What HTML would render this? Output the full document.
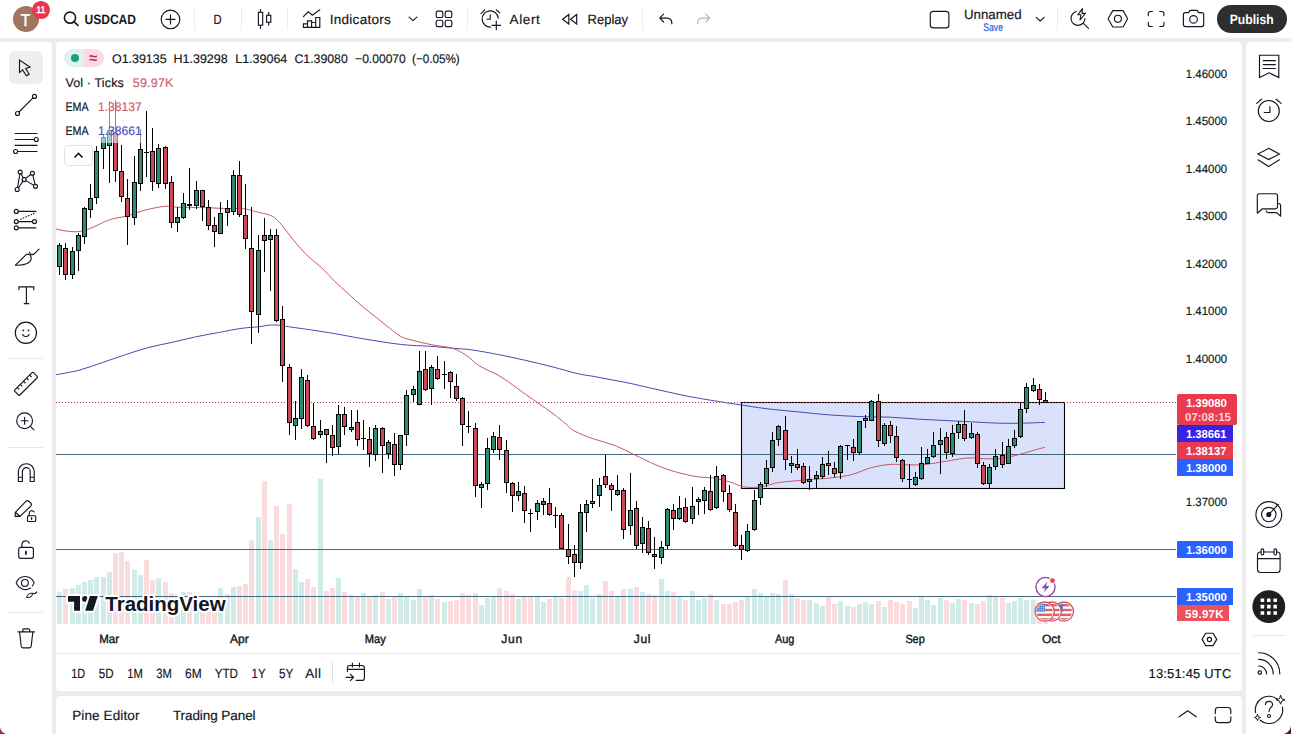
<!DOCTYPE html>
<html><head><meta charset="utf-8"><title>USDCAD</title>
<style>
html,body{margin:0;padding:0}
body{width:1291px;height:734px;overflow:hidden;background:#ececec;position:relative;font-family:"Liberation Sans",sans-serif}
.p{position:absolute;background:#fff}
.t{position:absolute;white-space:nowrap;font-family:"Liberation Sans",sans-serif}
.i{position:absolute;overflow:visible}
</style></head><body>
<div class="p" style="left:0;top:0;width:1291px;height:38px"></div>
<div class="p" style="left:0;top:42px;width:52px;height:692px;border-radius:0 4px 0 0"></div>
<div class="p" style="left:56px;top:42px;width:1186px;height:649px;border-radius:4px"></div>
<div class="p" style="left:56px;top:696px;width:1186px;height:38px;border-radius:4px 4px 0 0"></div>
<div class="p" style="left:1246px;top:42px;width:45px;height:692px;border-radius:4px 0 0 0"></div>
<svg style="position:absolute;left:0;top:0" width="1291" height="734" viewBox="0 0 1291 734">
<g shape-rendering="crispEdges">
<rect x="57" y="592.0" width="5" height="32.0" fill="#d1ebe9"/>
<rect x="63" y="588.7" width="5" height="35.3" fill="#fadcde"/>
<rect x="70" y="587.9" width="5" height="36.1" fill="#d1ebe9"/>
<rect x="76" y="585.2" width="5" height="38.8" fill="#d1ebe9"/>
<rect x="82" y="582.0" width="5" height="42.0" fill="#d1ebe9"/>
<rect x="88" y="579.8" width="5" height="44.2" fill="#d1ebe9"/>
<rect x="94" y="577.0" width="5" height="47.0" fill="#d1ebe9"/>
<rect x="101" y="577.0" width="5" height="47.0" fill="#d1ebe9"/>
<rect x="107" y="571.7" width="5" height="52.3" fill="#d1ebe9"/>
<rect x="113" y="552.7" width="5" height="71.3" fill="#fadcde"/>
<rect x="119" y="551.9" width="5" height="72.1" fill="#fadcde"/>
<rect x="125" y="560.8" width="5" height="63.2" fill="#fadcde"/>
<rect x="132" y="569.8" width="5" height="54.2" fill="#d1ebe9"/>
<rect x="138" y="575.2" width="5" height="48.8" fill="#d1ebe9"/>
<rect x="144" y="560.3" width="5" height="63.7" fill="#fadcde"/>
<rect x="150" y="579.8" width="5" height="44.2" fill="#fadcde"/>
<rect x="156" y="577.9" width="5" height="46.1" fill="#d1ebe9"/>
<rect x="163" y="582.0" width="5" height="42.0" fill="#fadcde"/>
<rect x="169" y="592.5" width="5" height="31.5" fill="#fadcde"/>
<rect x="175" y="595.0" width="5" height="29.0" fill="#d1ebe9"/>
<rect x="181" y="592.0" width="5" height="32.0" fill="#d1ebe9"/>
<rect x="187" y="592.0" width="5" height="32.0" fill="#fadcde"/>
<rect x="194" y="596.0" width="5" height="28.0" fill="#d1ebe9"/>
<rect x="200" y="600.0" width="5" height="24.0" fill="#fadcde"/>
<rect x="206" y="600.0" width="5" height="24.0" fill="#fadcde"/>
<rect x="212" y="598.8" width="5" height="25.2" fill="#fadcde"/>
<rect x="218" y="587.9" width="5" height="36.1" fill="#d1ebe9"/>
<rect x="225" y="593.9" width="5" height="30.1" fill="#d1ebe9"/>
<rect x="231" y="586.6" width="5" height="37.4" fill="#d1ebe9"/>
<rect x="237" y="585.7" width="5" height="38.3" fill="#fadcde"/>
<rect x="243" y="583.9" width="5" height="40.1" fill="#fadcde"/>
<rect x="249" y="539.9" width="5" height="84.1" fill="#fadcde"/>
<rect x="256" y="516.9" width="5" height="107.1" fill="#d1ebe9"/>
<rect x="262" y="480.8" width="5" height="143.2" fill="#fadcde"/>
<rect x="268" y="539.9" width="5" height="84.1" fill="#d1ebe9"/>
<rect x="274" y="506.0" width="5" height="118.0" fill="#fadcde"/>
<rect x="280" y="534.2" width="5" height="89.8" fill="#fadcde"/>
<rect x="287" y="503.9" width="5" height="120.1" fill="#fadcde"/>
<rect x="293" y="568.9" width="5" height="55.1" fill="#d1ebe9"/>
<rect x="299" y="582.0" width="5" height="42.0" fill="#d1ebe9"/>
<rect x="305" y="579.0" width="5" height="45.0" fill="#fadcde"/>
<rect x="311" y="586.6" width="5" height="37.4" fill="#fadcde"/>
<rect x="318" y="478.9" width="5" height="145.1" fill="#d1ebe9"/>
<rect x="324" y="590.6" width="5" height="33.4" fill="#fadcde"/>
<rect x="330" y="587.9" width="5" height="36.1" fill="#fadcde"/>
<rect x="336" y="577.9" width="5" height="46.1" fill="#d1ebe9"/>
<rect x="342" y="592.0" width="5" height="32.0" fill="#fadcde"/>
<rect x="349" y="595.0" width="5" height="29.0" fill="#d1ebe9"/>
<rect x="355" y="597.0" width="5" height="27.0" fill="#fadcde"/>
<rect x="361" y="593.0" width="5" height="31.0" fill="#d1ebe9"/>
<rect x="367" y="596.0" width="5" height="28.0" fill="#fadcde"/>
<rect x="373" y="595.0" width="5" height="29.0" fill="#d1ebe9"/>
<rect x="380" y="592.0" width="5" height="32.0" fill="#fadcde"/>
<rect x="386" y="598.8" width="5" height="25.2" fill="#d1ebe9"/>
<rect x="392" y="597.0" width="5" height="27.0" fill="#fadcde"/>
<rect x="398" y="593.0" width="5" height="31.0" fill="#d1ebe9"/>
<rect x="404" y="596.2" width="5" height="27.8" fill="#d1ebe9"/>
<rect x="411" y="600.2" width="5" height="23.8" fill="#d1ebe9"/>
<rect x="417" y="588.9" width="5" height="35.1" fill="#d1ebe9"/>
<rect x="423" y="596.2" width="5" height="27.8" fill="#fadcde"/>
<rect x="429" y="595.4" width="5" height="28.6" fill="#d1ebe9"/>
<rect x="435" y="598.9" width="5" height="25.1" fill="#fadcde"/>
<rect x="442" y="602.4" width="5" height="21.6" fill="#d1ebe9"/>
<rect x="448" y="601.0" width="5" height="23.0" fill="#fadcde"/>
<rect x="454" y="600.2" width="5" height="23.8" fill="#fadcde"/>
<rect x="460" y="592.9" width="5" height="31.1" fill="#fadcde"/>
<rect x="466" y="595.4" width="5" height="28.6" fill="#fadcde"/>
<rect x="473" y="592.9" width="5" height="31.1" fill="#fadcde"/>
<rect x="479" y="605.1" width="5" height="18.9" fill="#d1ebe9"/>
<rect x="485" y="598.0" width="5" height="26.0" fill="#d1ebe9"/>
<rect x="491" y="597.0" width="5" height="27.0" fill="#d1ebe9"/>
<rect x="497" y="588.0" width="5" height="36.0" fill="#fadcde"/>
<rect x="504" y="591.0" width="5" height="33.0" fill="#fadcde"/>
<rect x="510" y="594.0" width="5" height="30.0" fill="#fadcde"/>
<rect x="516" y="598.9" width="5" height="25.1" fill="#d1ebe9"/>
<rect x="522" y="597.0" width="5" height="27.0" fill="#fadcde"/>
<rect x="528" y="595.6" width="5" height="28.4" fill="#fadcde"/>
<rect x="535" y="597.0" width="5" height="27.0" fill="#d1ebe9"/>
<rect x="541" y="602.4" width="5" height="21.6" fill="#d1ebe9"/>
<rect x="547" y="598.9" width="5" height="25.1" fill="#fadcde"/>
<rect x="553" y="596.2" width="5" height="27.8" fill="#d1ebe9"/>
<rect x="559" y="598.0" width="5" height="26.0" fill="#fadcde"/>
<rect x="566" y="576.7" width="5" height="47.3" fill="#fadcde"/>
<rect x="572" y="589.9" width="5" height="34.1" fill="#fadcde"/>
<rect x="578" y="591.0" width="5" height="33.0" fill="#d1ebe9"/>
<rect x="584" y="584.8" width="5" height="39.2" fill="#d1ebe9"/>
<rect x="590" y="598.0" width="5" height="26.0" fill="#d1ebe9"/>
<rect x="597" y="594.0" width="5" height="30.0" fill="#d1ebe9"/>
<rect x="603" y="580.7" width="5" height="43.3" fill="#fadcde"/>
<rect x="609" y="591.0" width="5" height="33.0" fill="#fadcde"/>
<rect x="615" y="596.2" width="5" height="27.8" fill="#d1ebe9"/>
<rect x="621" y="588.9" width="5" height="35.1" fill="#fadcde"/>
<rect x="628" y="588.9" width="5" height="35.1" fill="#d1ebe9"/>
<rect x="634" y="587.0" width="5" height="37.0" fill="#fadcde"/>
<rect x="640" y="592.1" width="5" height="31.9" fill="#d1ebe9"/>
<rect x="646" y="594.0" width="5" height="30.0" fill="#fadcde"/>
<rect x="652" y="595.4" width="5" height="28.6" fill="#fadcde"/>
<rect x="659" y="578.8" width="5" height="45.2" fill="#d1ebe9"/>
<rect x="665" y="591.0" width="5" height="33.0" fill="#d1ebe9"/>
<rect x="671" y="592.1" width="5" height="31.9" fill="#fadcde"/>
<rect x="677" y="597.0" width="5" height="27.0" fill="#d1ebe9"/>
<rect x="683" y="599.7" width="5" height="24.3" fill="#fadcde"/>
<rect x="690" y="591.0" width="5" height="33.0" fill="#d1ebe9"/>
<rect x="696" y="599.7" width="5" height="24.3" fill="#d1ebe9"/>
<rect x="702" y="598.0" width="5" height="26.0" fill="#d1ebe9"/>
<rect x="708" y="594.0" width="5" height="30.0" fill="#fadcde"/>
<rect x="714" y="599.7" width="5" height="24.3" fill="#d1ebe9"/>
<rect x="721" y="603.8" width="5" height="20.2" fill="#fadcde"/>
<rect x="727" y="603.8" width="5" height="20.2" fill="#fadcde"/>
<rect x="733" y="602.1" width="5" height="21.9" fill="#fadcde"/>
<rect x="739" y="600.2" width="5" height="23.8" fill="#fadcde"/>
<rect x="745" y="597.0" width="5" height="27.0" fill="#d1ebe9"/>
<rect x="752" y="588.9" width="5" height="35.1" fill="#d1ebe9"/>
<rect x="758" y="592.9" width="5" height="31.1" fill="#d1ebe9"/>
<rect x="764" y="596.2" width="5" height="27.8" fill="#d1ebe9"/>
<rect x="770" y="592.9" width="5" height="31.1" fill="#d1ebe9"/>
<rect x="776" y="594.0" width="5" height="30.0" fill="#d1ebe9"/>
<rect x="783" y="579.9" width="5" height="44.1" fill="#fadcde"/>
<rect x="789" y="594.0" width="5" height="30.0" fill="#d1ebe9"/>
<rect x="795" y="598.0" width="5" height="26.0" fill="#fadcde"/>
<rect x="801" y="600.2" width="5" height="23.8" fill="#fadcde"/>
<rect x="807" y="600.2" width="5" height="23.8" fill="#d1ebe9"/>
<rect x="814" y="603.0" width="5" height="21.0" fill="#d1ebe9"/>
<rect x="820" y="606.2" width="5" height="17.8" fill="#d1ebe9"/>
<rect x="826" y="597.0" width="5" height="27.0" fill="#fadcde"/>
<rect x="832" y="603.8" width="5" height="20.2" fill="#fadcde"/>
<rect x="838" y="601.0" width="5" height="23.0" fill="#d1ebe9"/>
<rect x="845" y="605.7" width="5" height="18.3" fill="#d1ebe9"/>
<rect x="851" y="607.0" width="5" height="17.0" fill="#fadcde"/>
<rect x="857" y="603.8" width="5" height="20.2" fill="#d1ebe9"/>
<rect x="863" y="602.1" width="5" height="21.9" fill="#d1ebe9"/>
<rect x="869" y="603.8" width="5" height="20.2" fill="#d1ebe9"/>
<rect x="876" y="601.0" width="5" height="23.0" fill="#fadcde"/>
<rect x="882" y="607.0" width="5" height="17.0" fill="#d1ebe9"/>
<rect x="888" y="600.2" width="5" height="23.8" fill="#fadcde"/>
<rect x="894" y="602.1" width="5" height="21.9" fill="#fadcde"/>
<rect x="900" y="603.8" width="5" height="20.2" fill="#fadcde"/>
<rect x="907" y="601.0" width="5" height="23.0" fill="#fadcde"/>
<rect x="913" y="607.8" width="5" height="16.2" fill="#d1ebe9"/>
<rect x="919" y="597.0" width="5" height="27.0" fill="#d1ebe9"/>
<rect x="925" y="600.2" width="5" height="23.8" fill="#d1ebe9"/>
<rect x="931" y="604.8" width="5" height="19.2" fill="#d1ebe9"/>
<rect x="938" y="598.0" width="5" height="26.0" fill="#d1ebe9"/>
<rect x="944" y="600.2" width="5" height="23.8" fill="#fadcde"/>
<rect x="950" y="603.0" width="5" height="21.0" fill="#d1ebe9"/>
<rect x="956" y="598.9" width="5" height="25.1" fill="#d1ebe9"/>
<rect x="962" y="599.7" width="5" height="24.3" fill="#fadcde"/>
<rect x="969" y="603.0" width="5" height="21.0" fill="#d1ebe9"/>
<rect x="975" y="603.8" width="5" height="20.2" fill="#fadcde"/>
<rect x="981" y="601.0" width="5" height="23.0" fill="#fadcde"/>
<rect x="987" y="595.4" width="5" height="28.6" fill="#d1ebe9"/>
<rect x="993" y="596.2" width="5" height="27.8" fill="#d1ebe9"/>
<rect x="1000" y="598.0" width="5" height="26.0" fill="#fadcde"/>
<rect x="1006" y="603.0" width="5" height="21.0" fill="#d1ebe9"/>
<rect x="1012" y="601.0" width="5" height="23.0" fill="#d1ebe9"/>
<rect x="1018" y="598.0" width="5" height="26.0" fill="#d1ebe9"/>
<rect x="1024" y="600.2" width="5" height="23.8" fill="#d1ebe9"/>
<rect x="1031" y="599.7" width="5" height="24.3" fill="#d1ebe9"/>
<rect x="1037" y="601.6" width="5" height="22.4" fill="#fadcde"/>
<rect x="1043" y="603.0" width="5" height="21.0" fill="#fadcde"/>
</g>
<g shape-rendering="crispEdges">
<rect x="56" y="454" width="1120" height="1" fill="#456780"/>
<rect x="56" y="549" width="1120" height="1" fill="#456780"/>
<rect x="56" y="596" width="1120" height="1" fill="#456780"/>
</g>
<rect x="741.5" y="402.5" width="323" height="86" fill="#d5dffa" fill-opacity="0.9" stroke="#000" stroke-width="1.1"/>
<rect x="742" y="454" width="322" height="1" fill="#456780" shape-rendering="crispEdges"/>
<line x1="56" y1="402.5" x2="1177" y2="402.5" stroke="#a8434e" stroke-width="1" stroke-dasharray="1 2"/>
<path d="M56.0,374.8 C59.9,374.0 71.5,372.2 79.2,370.2 C87.0,368.1 94.8,365.1 102.5,362.5 C110.2,359.9 118.0,357.1 125.7,354.6 C133.4,352.1 141.2,349.4 149.0,347.4 C156.8,345.3 164.5,344.1 172.2,342.3 C179.9,340.6 187.7,338.5 195.4,336.9 C203.2,335.3 210.9,333.9 218.7,332.5 C226.4,331.1 235.3,329.2 241.9,328.3 C248.5,327.4 253.8,327.3 258.2,326.8 C262.6,326.3 265.3,325.6 268.0,325.3 C270.7,325.0 272.2,324.9 274.4,324.9 C276.6,324.9 278.7,325.1 281.0,325.4 C283.3,325.7 283.3,325.9 288.4,326.7 C293.5,327.5 303.9,328.8 311.6,330.0 C319.4,331.2 326.5,332.3 334.9,333.7 C343.3,335.1 351.3,336.8 362.2,338.6 C373.1,340.4 389.0,343.1 400.4,344.4 C411.8,345.7 421.8,345.7 430.4,346.3 C439.0,346.9 445.4,347.6 452.2,348.2 C459.0,348.8 463.5,348.7 471.2,349.8 C478.9,350.9 489.4,352.8 498.5,354.6 C507.6,356.4 516.6,358.3 525.7,360.4 C534.8,362.5 544.3,364.8 553.0,367.0 C561.7,369.2 570.6,372.1 577.7,373.7 C584.8,375.3 589.5,375.6 595.4,376.7 C601.3,377.8 607.2,379.0 613.1,380.1 C619.0,381.2 625.0,382.2 630.9,383.5 C636.8,384.8 642.7,386.2 648.6,387.6 C654.5,389.0 660.4,390.3 666.3,391.6 C672.2,392.9 678.1,394.3 684.0,395.5 C689.9,396.7 695.8,397.7 701.7,398.7 C707.6,399.7 712.8,400.6 719.4,401.6 C726.0,402.7 733.8,403.9 741.4,405.0 C749.0,406.1 756.4,407.4 764.9,408.5 C773.4,409.6 783.0,410.4 792.1,411.3 C801.2,412.2 812.0,413.3 819.3,414.0 C826.6,414.7 828.7,414.9 836.0,415.3 C843.3,415.8 854.1,416.4 863.2,416.7 C872.3,417.0 881.4,416.8 890.5,417.2 C899.6,417.6 908.6,418.6 917.7,419.1 C926.8,419.7 935.9,420.0 945.0,420.5 C954.1,421.0 963.1,421.4 972.2,421.9 C981.3,422.3 991.3,423.0 999.5,423.2 C1007.7,423.4 1013.7,423.3 1021.3,423.2 C1028.9,423.1 1041.0,422.5 1045.0,422.4" fill="none" stroke="#4a4ab4" stroke-width="1.0"/>
<path d="M56.0,229.0 C57.7,229.3 62.4,230.6 66.0,231.0 C69.6,231.4 74.0,232.0 77.8,231.7 C81.6,231.4 85.0,230.3 88.7,229.0 C92.4,227.7 96.4,225.6 100.0,224.0 C103.6,222.4 106.0,220.8 110.5,219.4 C115.0,218.1 120.9,217.5 126.8,215.9 C132.7,214.3 139.5,211.5 145.9,209.9 C152.3,208.3 159.6,206.8 165.0,206.3 C170.4,205.9 171.8,207.0 178.6,207.2 C185.4,207.4 198.2,207.5 205.9,207.7 C213.6,207.9 218.8,208.3 224.9,208.5 C231.0,208.7 238.1,208.3 242.3,208.6 C246.5,208.8 247.4,209.4 250.0,210.0 C252.6,210.6 254.3,211.4 257.6,212.2 C260.9,213.0 266.5,213.9 269.6,215.0 C272.7,216.1 273.9,217.2 276.0,219.0 C278.1,220.8 279.2,221.8 282.2,225.5 C285.2,229.2 289.9,235.8 294.1,240.9 C298.4,246.0 303.1,251.5 307.7,255.9 C312.2,260.3 316.8,263.2 321.4,267.5 C325.9,271.8 330.5,277.3 335.0,281.7 C339.5,286.1 344.1,289.9 348.6,294.0 C353.1,298.1 357.6,302.4 362.2,306.3 C366.8,310.2 371.3,313.6 375.9,317.2 C380.4,320.8 385.4,324.9 389.5,328.1 C393.6,331.3 396.8,334.2 400.4,336.2 C404.0,338.2 405.9,338.5 411.3,340.0 C416.8,341.5 426.3,343.6 433.1,345.0 C439.9,346.4 446.8,346.5 452.2,348.2 C457.6,349.9 461.3,352.1 465.8,355.0 C470.3,357.9 473.9,362.5 479.4,365.9 C484.8,369.3 493.1,372.3 498.5,375.4 C503.9,378.5 507.6,381.3 512.1,384.5 C516.6,387.7 521.2,391.2 525.7,394.5 C530.2,397.8 534.9,400.8 539.4,404.0 C543.9,407.2 548.5,410.2 553.0,413.6 C557.5,417.0 563.1,421.6 566.6,424.5 C570.1,427.4 569.7,428.5 574.1,430.9 C578.5,433.3 586.4,436.4 593.2,438.8 C600.0,441.2 608.2,442.9 615.0,445.5 C621.8,448.1 627.3,451.4 634.1,454.6 C640.9,457.8 649.1,462.0 655.9,464.9 C662.7,467.8 668.1,469.8 674.9,471.7 C681.7,473.6 690.3,475.6 696.7,476.6 C703.1,477.7 707.7,477.1 713.1,478.0 C718.5,478.9 724.4,480.4 729.4,481.8 C734.4,483.2 738.5,485.8 743.1,486.7 C747.7,487.6 752.6,487.5 756.7,487.3 C760.8,487.1 764.0,486.2 767.6,485.4 C771.2,484.6 772.1,483.5 778.5,482.6 C784.9,481.7 796.6,480.7 805.7,479.9 C814.8,479.1 825.2,478.6 833.0,477.7 C840.8,476.8 845.9,476.1 852.3,474.4 C858.7,472.7 865.0,469.3 871.4,467.6 C877.8,465.9 884.6,464.8 890.5,464.4 C896.4,463.9 900.9,464.9 906.8,464.9 C912.7,464.9 919.5,465.0 925.9,464.4 C932.3,463.8 938.2,462.4 945.0,461.4 C951.8,460.3 960.4,458.6 966.8,458.1 C973.1,457.6 977.6,458.5 983.1,458.6 C988.6,458.7 994.0,459.1 999.5,458.6 C1005.0,458.1 1010.3,456.7 1015.8,455.4 C1021.2,454.1 1027.3,452.1 1032.2,450.7 C1037.1,449.3 1042.9,447.8 1045.0,447.2" fill="none" stroke="#c95866" stroke-width="1.0"/>
<g shape-rendering="crispEdges">
<rect x="59" y="243.1" width="1" height="32.2" fill="#000"/>
<rect x="57" y="245.3" width="5" height="21.3" fill="#000"/>
<rect x="58" y="246.3" width="3" height="19.3" fill="#2f8b76"/>
<rect x="65" y="242.6" width="1" height="37.3" fill="#000"/>
<rect x="63" y="248.0" width="5" height="27.3" fill="#000"/>
<rect x="64" y="249.0" width="3" height="25.3" fill="#c94a57"/>
<rect x="72" y="246.7" width="1" height="31.9" fill="#000"/>
<rect x="70" y="251.3" width="5" height="23.4" fill="#000"/>
<rect x="71" y="252.3" width="3" height="21.4" fill="#2f8b76"/>
<rect x="78" y="233.0" width="1" height="38.2" fill="#000"/>
<rect x="76" y="235.2" width="5" height="16.1" fill="#000"/>
<rect x="77" y="236.2" width="3" height="14.1" fill="#2f8b76"/>
<rect x="84" y="207.2" width="1" height="36.8" fill="#000"/>
<rect x="82" y="208.0" width="5" height="28.6" fill="#000"/>
<rect x="83" y="209.0" width="3" height="26.6" fill="#2f8b76"/>
<rect x="90" y="183.5" width="1" height="34.5" fill="#000"/>
<rect x="88" y="198.2" width="5" height="11.7" fill="#000"/>
<rect x="89" y="199.2" width="3" height="9.7" fill="#2f8b76"/>
<rect x="96" y="145.9" width="1" height="58.5" fill="#000"/>
<rect x="94" y="151.3" width="5" height="47.1" fill="#000"/>
<rect x="95" y="152.3" width="3" height="45.1" fill="#2f8b76"/>
<rect x="103" y="134.1" width="1" height="34.6" fill="#000"/>
<rect x="101" y="137.0" width="5" height="12.2" fill="#000"/>
<rect x="102" y="138.0" width="3" height="10.2" fill="#2f8b76"/>
<rect x="109" y="101.0" width="1" height="81.6" fill="#000"/>
<rect x="107" y="130.4" width="5" height="15.9" fill="#000"/>
<rect x="108" y="131.4" width="3" height="13.9" fill="#2f8b76"/>
<rect x="115" y="100.0" width="1" height="81.5" fill="#000"/>
<rect x="113" y="132.5" width="5" height="38.6" fill="#000"/>
<rect x="114" y="133.5" width="3" height="36.6" fill="#c94a57"/>
<rect x="121" y="144.8" width="1" height="56.7" fill="#000"/>
<rect x="119" y="171.1" width="5" height="25.5" fill="#000"/>
<rect x="120" y="172.1" width="3" height="23.5" fill="#c94a57"/>
<rect x="127" y="178.8" width="1" height="66.0" fill="#000"/>
<rect x="125" y="198.3" width="5" height="18.8" fill="#000"/>
<rect x="126" y="199.3" width="3" height="16.8" fill="#c94a57"/>
<rect x="134" y="155.8" width="1" height="69.4" fill="#000"/>
<rect x="132" y="182.2" width="5" height="36.1" fill="#000"/>
<rect x="133" y="183.2" width="3" height="34.1" fill="#2f8b76"/>
<rect x="140" y="128.5" width="1" height="62.2" fill="#000"/>
<rect x="138" y="149.2" width="5" height="34.4" fill="#000"/>
<rect x="139" y="150.2" width="3" height="32.4" fill="#2f8b76"/>
<rect x="146" y="111.0" width="1" height="66.2" fill="#000"/>
<rect x="144" y="151.5" width="5" height="1.3" fill="#000"/>
<rect x="152" y="128.0" width="1" height="62.7" fill="#000"/>
<rect x="150" y="151.4" width="5" height="31.0" fill="#000"/>
<rect x="151" y="152.4" width="3" height="29.0" fill="#c94a57"/>
<rect x="158" y="144.1" width="1" height="43.8" fill="#000"/>
<rect x="156" y="147.9" width="5" height="35.9" fill="#000"/>
<rect x="157" y="148.9" width="3" height="33.9" fill="#2f8b76"/>
<rect x="165" y="146.1" width="1" height="43.2" fill="#000"/>
<rect x="163" y="147.2" width="5" height="36.6" fill="#000"/>
<rect x="164" y="148.2" width="3" height="34.6" fill="#c94a57"/>
<rect x="171" y="176.0" width="1" height="52.0" fill="#000"/>
<rect x="169" y="182.2" width="5" height="40.3" fill="#000"/>
<rect x="170" y="183.2" width="3" height="38.3" fill="#c94a57"/>
<rect x="177" y="207.1" width="1" height="24.6" fill="#000"/>
<rect x="175" y="217.3" width="5" height="5.2" fill="#000"/>
<rect x="176" y="218.3" width="3" height="3.2" fill="#2f8b76"/>
<rect x="183" y="193.0" width="1" height="26.4" fill="#000"/>
<rect x="181" y="203.2" width="5" height="14.9" fill="#000"/>
<rect x="182" y="204.2" width="3" height="12.9" fill="#2f8b76"/>
<rect x="189" y="168.2" width="1" height="41.7" fill="#000"/>
<rect x="187" y="204.4" width="5" height="1.4" fill="#000"/>
<rect x="196" y="181.3" width="1" height="27.2" fill="#000"/>
<rect x="194" y="190.3" width="5" height="15.5" fill="#000"/>
<rect x="195" y="191.3" width="3" height="13.5" fill="#2f8b76"/>
<rect x="202" y="189.5" width="1" height="31.3" fill="#000"/>
<rect x="200" y="190.3" width="5" height="16.9" fill="#000"/>
<rect x="201" y="191.3" width="3" height="14.9" fill="#c94a57"/>
<rect x="208" y="200.4" width="1" height="29.1" fill="#000"/>
<rect x="206" y="207.2" width="5" height="19.0" fill="#000"/>
<rect x="207" y="208.2" width="3" height="17.0" fill="#c94a57"/>
<rect x="214" y="216.7" width="1" height="30.0" fill="#000"/>
<rect x="212" y="225.4" width="5" height="6.3" fill="#000"/>
<rect x="213" y="226.4" width="3" height="4.3" fill="#c94a57"/>
<rect x="220" y="201.7" width="1" height="32.7" fill="#000"/>
<rect x="218" y="213.2" width="5" height="20.4" fill="#000"/>
<rect x="219" y="214.2" width="3" height="18.4" fill="#2f8b76"/>
<rect x="227" y="200.4" width="1" height="25.8" fill="#000"/>
<rect x="225" y="208.0" width="5" height="5.4" fill="#000"/>
<rect x="226" y="209.0" width="3" height="3.4" fill="#2f8b76"/>
<rect x="233" y="170.4" width="1" height="44.9" fill="#000"/>
<rect x="231" y="174.5" width="5" height="37.6" fill="#000"/>
<rect x="232" y="175.5" width="3" height="35.6" fill="#2f8b76"/>
<rect x="239" y="161.4" width="1" height="55.3" fill="#000"/>
<rect x="237" y="175.3" width="5" height="39.2" fill="#000"/>
<rect x="238" y="176.3" width="3" height="37.2" fill="#c94a57"/>
<rect x="245" y="184.0" width="1" height="65.4" fill="#000"/>
<rect x="243" y="215.3" width="5" height="23.2" fill="#000"/>
<rect x="244" y="216.3" width="3" height="21.2" fill="#c94a57"/>
<rect x="251" y="207.2" width="1" height="137.2" fill="#000"/>
<rect x="249" y="247.7" width="5" height="64.6" fill="#000"/>
<rect x="250" y="248.7" width="3" height="62.6" fill="#c94a57"/>
<rect x="258" y="235.2" width="1" height="97.5" fill="#000"/>
<rect x="256" y="249.6" width="5" height="65.7" fill="#000"/>
<rect x="257" y="250.6" width="3" height="63.7" fill="#2f8b76"/>
<rect x="264" y="218.2" width="1" height="54.2" fill="#000"/>
<rect x="262" y="234.6" width="5" height="6.8" fill="#000"/>
<rect x="263" y="235.6" width="3" height="4.8" fill="#c94a57"/>
<rect x="270" y="229.4" width="1" height="61.3" fill="#000"/>
<rect x="268" y="234.6" width="5" height="5.7" fill="#000"/>
<rect x="269" y="235.6" width="3" height="3.7" fill="#2f8b76"/>
<rect x="276" y="228.6" width="1" height="93.4" fill="#000"/>
<rect x="274" y="234.6" width="5" height="86.7" fill="#000"/>
<rect x="275" y="235.6" width="3" height="84.7" fill="#c94a57"/>
<rect x="282" y="306.3" width="1" height="75.2" fill="#000"/>
<rect x="280" y="318.5" width="5" height="47.8" fill="#000"/>
<rect x="281" y="319.5" width="3" height="45.8" fill="#c94a57"/>
<rect x="289" y="364.0" width="1" height="70.5" fill="#000"/>
<rect x="287" y="367.2" width="5" height="55.9" fill="#000"/>
<rect x="288" y="368.2" width="3" height="53.9" fill="#c94a57"/>
<rect x="295" y="401.3" width="1" height="38.2" fill="#000"/>
<rect x="293" y="417.7" width="5" height="8.7" fill="#000"/>
<rect x="294" y="418.7" width="3" height="6.7" fill="#2f8b76"/>
<rect x="301" y="369.4" width="1" height="60.0" fill="#000"/>
<rect x="299" y="377.3" width="5" height="41.2" fill="#000"/>
<rect x="300" y="378.3" width="3" height="39.2" fill="#2f8b76"/>
<rect x="307" y="375.4" width="1" height="51.8" fill="#000"/>
<rect x="305" y="380.3" width="5" height="46.1" fill="#000"/>
<rect x="306" y="381.3" width="3" height="44.1" fill="#c94a57"/>
<rect x="313" y="403.2" width="1" height="36.5" fill="#000"/>
<rect x="311" y="426.4" width="5" height="12.2" fill="#000"/>
<rect x="312" y="427.4" width="3" height="10.2" fill="#c94a57"/>
<rect x="320" y="420.4" width="1" height="17.1" fill="#000"/>
<rect x="318" y="430.5" width="5" height="4.1" fill="#000"/>
<rect x="319" y="431.5" width="3" height="2.1" fill="#2f8b76"/>
<rect x="326" y="428.6" width="1" height="34.0" fill="#000"/>
<rect x="324" y="429.4" width="5" height="6.0" fill="#000"/>
<rect x="325" y="430.4" width="3" height="4.0" fill="#c94a57"/>
<rect x="332" y="424.5" width="1" height="31.8" fill="#000"/>
<rect x="330" y="434.6" width="5" height="13.8" fill="#000"/>
<rect x="331" y="435.6" width="3" height="11.8" fill="#c94a57"/>
<rect x="338" y="404.6" width="1" height="49.3" fill="#000"/>
<rect x="336" y="414.1" width="5" height="33.0" fill="#000"/>
<rect x="337" y="415.1" width="3" height="31.0" fill="#2f8b76"/>
<rect x="344" y="407.3" width="1" height="27.3" fill="#000"/>
<rect x="342" y="414.1" width="5" height="13.1" fill="#000"/>
<rect x="343" y="415.1" width="3" height="11.1" fill="#c94a57"/>
<rect x="351" y="410.3" width="1" height="21.5" fill="#000"/>
<rect x="349" y="427.2" width="5" height="3.0" fill="#000"/>
<rect x="350" y="428.2" width="3" height="1.0" fill="#2f8b76"/>
<rect x="357" y="409.5" width="1" height="36.2" fill="#000"/>
<rect x="355" y="422.3" width="5" height="18.0" fill="#000"/>
<rect x="356" y="423.3" width="3" height="16.0" fill="#c94a57"/>
<rect x="363" y="419.6" width="1" height="29.9" fill="#000"/>
<rect x="361" y="438.1" width="5" height="1.1" fill="#000"/>
<rect x="369" y="427.2" width="1" height="40.0" fill="#000"/>
<rect x="367" y="438.6" width="5" height="15.3" fill="#000"/>
<rect x="368" y="439.6" width="3" height="13.3" fill="#c94a57"/>
<rect x="375" y="424.5" width="1" height="36.2" fill="#000"/>
<rect x="373" y="428.0" width="5" height="27.3" fill="#000"/>
<rect x="374" y="429.0" width="3" height="25.3" fill="#2f8b76"/>
<rect x="382" y="427.2" width="1" height="45.5" fill="#000"/>
<rect x="380" y="428.0" width="5" height="18.3" fill="#000"/>
<rect x="381" y="429.0" width="3" height="16.3" fill="#c94a57"/>
<rect x="388" y="439.5" width="1" height="19.8" fill="#000"/>
<rect x="386" y="442.2" width="5" height="11.7" fill="#000"/>
<rect x="387" y="443.2" width="3" height="9.7" fill="#2f8b76"/>
<rect x="394" y="432.6" width="1" height="43.6" fill="#000"/>
<rect x="392" y="443.5" width="5" height="21.8" fill="#000"/>
<rect x="393" y="444.5" width="3" height="19.8" fill="#c94a57"/>
<rect x="400" y="434.8" width="1" height="35.4" fill="#000"/>
<rect x="398" y="435.4" width="5" height="29.9" fill="#000"/>
<rect x="399" y="436.4" width="3" height="27.9" fill="#2f8b76"/>
<rect x="406" y="390.4" width="1" height="55.9" fill="#000"/>
<rect x="404" y="395.3" width="5" height="40.1" fill="#000"/>
<rect x="405" y="396.3" width="3" height="38.1" fill="#2f8b76"/>
<rect x="413" y="385.5" width="1" height="16.6" fill="#000"/>
<rect x="411" y="388.5" width="5" height="6.8" fill="#000"/>
<rect x="412" y="389.5" width="3" height="4.8" fill="#2f8b76"/>
<rect x="419" y="351.4" width="1" height="54.0" fill="#000"/>
<rect x="417" y="371.3" width="5" height="34.1" fill="#000"/>
<rect x="418" y="372.3" width="3" height="32.1" fill="#2f8b76"/>
<rect x="425" y="351.4" width="1" height="39.6" fill="#000"/>
<rect x="423" y="369.4" width="5" height="20.2" fill="#000"/>
<rect x="424" y="370.4" width="3" height="18.2" fill="#c94a57"/>
<rect x="431" y="365.0" width="1" height="39.6" fill="#000"/>
<rect x="429" y="367.2" width="5" height="21.3" fill="#000"/>
<rect x="430" y="368.2" width="3" height="19.3" fill="#2f8b76"/>
<rect x="437" y="356.3" width="1" height="23.7" fill="#000"/>
<rect x="435" y="369.4" width="5" height="9.3" fill="#000"/>
<rect x="436" y="370.4" width="3" height="7.3" fill="#c94a57"/>
<rect x="444" y="361.3" width="1" height="27.2" fill="#000"/>
<rect x="442" y="374.3" width="5" height="1.1" fill="#000"/>
<rect x="450" y="371.0" width="1" height="26.8" fill="#000"/>
<rect x="448" y="371.6" width="5" height="10.6" fill="#000"/>
<rect x="449" y="372.6" width="3" height="8.6" fill="#c94a57"/>
<rect x="456" y="374.3" width="1" height="27.0" fill="#000"/>
<rect x="454" y="385.5" width="5" height="13.9" fill="#000"/>
<rect x="455" y="386.5" width="3" height="11.9" fill="#c94a57"/>
<rect x="462" y="397.2" width="1" height="49.1" fill="#000"/>
<rect x="460" y="398.3" width="5" height="27.0" fill="#000"/>
<rect x="461" y="399.3" width="3" height="25.0" fill="#c94a57"/>
<rect x="468" y="411.4" width="1" height="21.2" fill="#000"/>
<rect x="466" y="426.1" width="5" height="1.1" fill="#000"/>
<rect x="475" y="423.1" width="1" height="73.6" fill="#000"/>
<rect x="473" y="428.0" width="5" height="58.3" fill="#000"/>
<rect x="474" y="429.0" width="3" height="56.3" fill="#c94a57"/>
<rect x="481" y="481.7" width="1" height="25.9" fill="#000"/>
<rect x="479" y="484.4" width="5" height="3.3" fill="#000"/>
<rect x="480" y="485.4" width="3" height="1.3" fill="#2f8b76"/>
<rect x="487" y="437.5" width="1" height="52.9" fill="#000"/>
<rect x="485" y="447.6" width="5" height="36.8" fill="#000"/>
<rect x="486" y="448.6" width="3" height="34.8" fill="#2f8b76"/>
<rect x="493" y="432.1" width="1" height="20.4" fill="#000"/>
<rect x="491" y="436.2" width="5" height="14.2" fill="#000"/>
<rect x="492" y="437.2" width="3" height="12.2" fill="#2f8b76"/>
<rect x="499" y="424.5" width="1" height="35.4" fill="#000"/>
<rect x="497" y="437.3" width="5" height="13.1" fill="#000"/>
<rect x="498" y="438.3" width="3" height="11.1" fill="#c94a57"/>
<rect x="506" y="439.5" width="1" height="53.6" fill="#000"/>
<rect x="504" y="450.4" width="5" height="32.7" fill="#000"/>
<rect x="505" y="451.4" width="3" height="30.7" fill="#c94a57"/>
<rect x="512" y="481.5" width="1" height="30.9" fill="#000"/>
<rect x="510" y="483.1" width="5" height="12.4" fill="#000"/>
<rect x="511" y="484.1" width="3" height="10.4" fill="#c94a57"/>
<rect x="518" y="481.5" width="1" height="19.4" fill="#000"/>
<rect x="516" y="491.3" width="5" height="4.2" fill="#000"/>
<rect x="517" y="492.3" width="3" height="2.2" fill="#2f8b76"/>
<rect x="524" y="486.0" width="1" height="37.3" fill="#000"/>
<rect x="522" y="492.5" width="5" height="18.8" fill="#000"/>
<rect x="523" y="493.5" width="3" height="16.8" fill="#c94a57"/>
<rect x="530" y="509.0" width="1" height="22.5" fill="#000"/>
<rect x="528" y="512.7" width="5" height="1.1" fill="#000"/>
<rect x="537" y="499.5" width="1" height="20.0" fill="#000"/>
<rect x="535" y="503.1" width="5" height="9.3" fill="#000"/>
<rect x="536" y="504.1" width="3" height="7.3" fill="#2f8b76"/>
<rect x="543" y="498.1" width="1" height="17.3" fill="#000"/>
<rect x="541" y="501.2" width="5" height="3.3" fill="#000"/>
<rect x="542" y="502.2" width="3" height="1.3" fill="#2f8b76"/>
<rect x="549" y="488.2" width="1" height="27.6" fill="#000"/>
<rect x="547" y="502.5" width="5" height="12.8" fill="#000"/>
<rect x="548" y="503.5" width="3" height="10.8" fill="#c94a57"/>
<rect x="555" y="506.7" width="1" height="21.1" fill="#000"/>
<rect x="553" y="514.8" width="5" height="1.2" fill="#000"/>
<rect x="561" y="513.2" width="1" height="35.4" fill="#000"/>
<rect x="559" y="515.3" width="5" height="33.3" fill="#000"/>
<rect x="560" y="516.3" width="3" height="31.3" fill="#c94a57"/>
<rect x="568" y="524.0" width="1" height="40.4" fill="#000"/>
<rect x="566" y="548.6" width="5" height="8.7" fill="#000"/>
<rect x="567" y="549.6" width="3" height="6.7" fill="#c94a57"/>
<rect x="574" y="545.3" width="1" height="31.3" fill="#000"/>
<rect x="572" y="554.3" width="5" height="8.5" fill="#000"/>
<rect x="573" y="555.3" width="3" height="6.5" fill="#c94a57"/>
<rect x="580" y="504.4" width="1" height="64.1" fill="#000"/>
<rect x="578" y="511.5" width="5" height="51.8" fill="#000"/>
<rect x="579" y="512.5" width="3" height="49.8" fill="#2f8b76"/>
<rect x="586" y="500.4" width="1" height="31.3" fill="#000"/>
<rect x="584" y="504.4" width="5" height="9.0" fill="#000"/>
<rect x="585" y="505.4" width="3" height="7.0" fill="#2f8b76"/>
<rect x="592" y="479.4" width="1" height="28.3" fill="#000"/>
<rect x="590" y="501.2" width="5" height="3.2" fill="#000"/>
<rect x="591" y="502.2" width="3" height="1.2" fill="#2f8b76"/>
<rect x="599" y="477.7" width="1" height="28.9" fill="#000"/>
<rect x="597" y="485.4" width="5" height="10.9" fill="#000"/>
<rect x="598" y="486.4" width="3" height="8.9" fill="#2f8b76"/>
<rect x="605" y="455.4" width="1" height="32.7" fill="#000"/>
<rect x="603" y="476.4" width="5" height="8.2" fill="#000"/>
<rect x="604" y="477.4" width="3" height="6.2" fill="#c94a57"/>
<rect x="611" y="483.2" width="1" height="27.5" fill="#000"/>
<rect x="609" y="485.4" width="5" height="4.1" fill="#000"/>
<rect x="610" y="486.4" width="3" height="2.1" fill="#c94a57"/>
<rect x="617" y="475.3" width="1" height="21.0" fill="#000"/>
<rect x="615" y="489.5" width="5" height="5.9" fill="#000"/>
<rect x="616" y="490.5" width="3" height="3.9" fill="#2f8b76"/>
<rect x="623" y="488.1" width="1" height="51.2" fill="#000"/>
<rect x="621" y="489.5" width="5" height="40.8" fill="#000"/>
<rect x="622" y="490.5" width="3" height="38.8" fill="#c94a57"/>
<rect x="630" y="473.1" width="1" height="62.1" fill="#000"/>
<rect x="628" y="509.9" width="5" height="16.3" fill="#000"/>
<rect x="629" y="510.9" width="3" height="14.3" fill="#2f8b76"/>
<rect x="636" y="501.2" width="1" height="47.7" fill="#000"/>
<rect x="634" y="507.7" width="5" height="38.2" fill="#000"/>
<rect x="635" y="508.7" width="3" height="36.2" fill="#c94a57"/>
<rect x="642" y="516.7" width="1" height="36.0" fill="#000"/>
<rect x="640" y="527.1" width="5" height="17.1" fill="#000"/>
<rect x="641" y="528.1" width="3" height="15.1" fill="#2f8b76"/>
<rect x="648" y="521.3" width="1" height="34.1" fill="#000"/>
<rect x="646" y="528.4" width="5" height="24.5" fill="#000"/>
<rect x="647" y="529.4" width="3" height="22.5" fill="#c94a57"/>
<rect x="654" y="537.1" width="1" height="31.4" fill="#000"/>
<rect x="652" y="553.5" width="5" height="3.0" fill="#000"/>
<rect x="653" y="554.5" width="3" height="1.0" fill="#c94a57"/>
<rect x="661" y="541.2" width="1" height="23.2" fill="#000"/>
<rect x="659" y="547.2" width="5" height="11.2" fill="#000"/>
<rect x="660" y="548.2" width="3" height="9.2" fill="#2f8b76"/>
<rect x="667" y="507.7" width="1" height="41.7" fill="#000"/>
<rect x="665" y="509.1" width="5" height="36.5" fill="#000"/>
<rect x="666" y="510.1" width="3" height="34.5" fill="#2f8b76"/>
<rect x="673" y="504.4" width="1" height="25.1" fill="#000"/>
<rect x="671" y="509.9" width="5" height="9.0" fill="#000"/>
<rect x="672" y="510.9" width="3" height="7.0" fill="#c94a57"/>
<rect x="679" y="496.3" width="1" height="23.4" fill="#000"/>
<rect x="677" y="508.3" width="5" height="10.3" fill="#000"/>
<rect x="678" y="509.3" width="3" height="8.3" fill="#2f8b76"/>
<rect x="685" y="497.6" width="1" height="25.4" fill="#000"/>
<rect x="683" y="507.4" width="5" height="15.0" fill="#000"/>
<rect x="684" y="508.4" width="3" height="13.0" fill="#c94a57"/>
<rect x="692" y="486.7" width="1" height="36.8" fill="#000"/>
<rect x="690" y="506.3" width="5" height="13.1" fill="#000"/>
<rect x="691" y="507.3" width="3" height="11.1" fill="#2f8b76"/>
<rect x="698" y="497.1" width="1" height="18.2" fill="#000"/>
<rect x="696" y="499.3" width="5" height="3.0" fill="#000"/>
<rect x="697" y="500.3" width="3" height="1.0" fill="#2f8b76"/>
<rect x="704" y="487.3" width="1" height="26.7" fill="#000"/>
<rect x="702" y="490.3" width="5" height="10.9" fill="#000"/>
<rect x="703" y="491.3" width="3" height="8.9" fill="#2f8b76"/>
<rect x="710" y="474.5" width="1" height="36.2" fill="#000"/>
<rect x="708" y="491.4" width="5" height="18.8" fill="#000"/>
<rect x="709" y="492.4" width="3" height="16.8" fill="#c94a57"/>
<rect x="716" y="466.3" width="1" height="42.5" fill="#000"/>
<rect x="714" y="476.4" width="5" height="31.9" fill="#000"/>
<rect x="715" y="477.4" width="3" height="29.9" fill="#2f8b76"/>
<rect x="723" y="473.9" width="1" height="28.4" fill="#000"/>
<rect x="721" y="475.3" width="5" height="16.3" fill="#000"/>
<rect x="722" y="476.3" width="3" height="14.3" fill="#c94a57"/>
<rect x="729" y="484.8" width="1" height="26.7" fill="#000"/>
<rect x="727" y="493.0" width="5" height="17.4" fill="#000"/>
<rect x="728" y="494.0" width="3" height="15.4" fill="#c94a57"/>
<rect x="735" y="503.6" width="1" height="43.1" fill="#000"/>
<rect x="733" y="511.5" width="5" height="34.6" fill="#000"/>
<rect x="734" y="512.5" width="3" height="32.6" fill="#c94a57"/>
<rect x="741" y="535.2" width="1" height="24.3" fill="#000"/>
<rect x="739" y="545.3" width="5" height="4.9" fill="#000"/>
<rect x="740" y="546.3" width="3" height="2.9" fill="#c94a57"/>
<rect x="747" y="523.5" width="1" height="28.4" fill="#000"/>
<rect x="745" y="531.1" width="5" height="20.2" fill="#000"/>
<rect x="746" y="532.1" width="3" height="18.2" fill="#2f8b76"/>
<rect x="754" y="489.5" width="1" height="41.1" fill="#000"/>
<rect x="752" y="500.4" width="5" height="29.4" fill="#000"/>
<rect x="753" y="501.4" width="3" height="27.4" fill="#2f8b76"/>
<rect x="760" y="481.6" width="1" height="23.7" fill="#000"/>
<rect x="758" y="483.5" width="5" height="14.9" fill="#000"/>
<rect x="759" y="484.5" width="3" height="12.9" fill="#2f8b76"/>
<rect x="766" y="459.5" width="1" height="27.2" fill="#000"/>
<rect x="764" y="467.7" width="5" height="16.3" fill="#000"/>
<rect x="765" y="468.7" width="3" height="14.3" fill="#2f8b76"/>
<rect x="772" y="432.2" width="1" height="39.5" fill="#000"/>
<rect x="770" y="439.6" width="5" height="28.6" fill="#000"/>
<rect x="771" y="440.6" width="3" height="26.6" fill="#2f8b76"/>
<rect x="778" y="425.4" width="1" height="21.0" fill="#000"/>
<rect x="776" y="426.2" width="5" height="13.4" fill="#000"/>
<rect x="777" y="427.2" width="3" height="11.4" fill="#2f8b76"/>
<rect x="785" y="416.4" width="1" height="54.0" fill="#000"/>
<rect x="783" y="430.1" width="5" height="29.4" fill="#000"/>
<rect x="784" y="431.1" width="3" height="27.4" fill="#c94a57"/>
<rect x="791" y="456.2" width="1" height="16.4" fill="#000"/>
<rect x="789" y="463.0" width="5" height="3.0" fill="#000"/>
<rect x="790" y="464.0" width="3" height="1.0" fill="#2f8b76"/>
<rect x="797" y="449.4" width="1" height="21.0" fill="#000"/>
<rect x="795" y="464.1" width="5" height="3.6" fill="#000"/>
<rect x="796" y="465.1" width="3" height="1.6" fill="#c94a57"/>
<rect x="803" y="463.0" width="1" height="20.5" fill="#000"/>
<rect x="801" y="465.5" width="5" height="17.1" fill="#000"/>
<rect x="802" y="466.5" width="3" height="15.1" fill="#c94a57"/>
<rect x="809" y="466.3" width="1" height="24.0" fill="#000"/>
<rect x="807" y="478.6" width="5" height="3.0" fill="#000"/>
<rect x="808" y="479.6" width="3" height="1.0" fill="#2f8b76"/>
<rect x="816" y="471.2" width="1" height="16.9" fill="#000"/>
<rect x="814" y="475.3" width="5" height="3.3" fill="#000"/>
<rect x="815" y="476.3" width="3" height="1.3" fill="#2f8b76"/>
<rect x="822" y="456.8" width="1" height="22.6" fill="#000"/>
<rect x="820" y="464.4" width="5" height="12.2" fill="#000"/>
<rect x="821" y="465.4" width="3" height="10.2" fill="#2f8b76"/>
<rect x="828" y="451.3" width="1" height="23.2" fill="#000"/>
<rect x="826" y="463.0" width="5" height="3.3" fill="#000"/>
<rect x="827" y="464.0" width="3" height="1.3" fill="#c94a57"/>
<rect x="834" y="462.2" width="1" height="14.4" fill="#000"/>
<rect x="832" y="467.7" width="5" height="6.0" fill="#000"/>
<rect x="833" y="468.7" width="3" height="4.0" fill="#c94a57"/>
<rect x="840" y="444.5" width="1" height="34.7" fill="#000"/>
<rect x="838" y="446.4" width="5" height="26.7" fill="#000"/>
<rect x="839" y="447.4" width="3" height="24.7" fill="#2f8b76"/>
<rect x="847" y="444.5" width="1" height="15.0" fill="#000"/>
<rect x="845" y="445.3" width="5" height="1.1" fill="#000"/>
<rect x="853" y="439.0" width="1" height="22.4" fill="#000"/>
<rect x="851" y="446.6" width="5" height="6.0" fill="#000"/>
<rect x="852" y="447.6" width="3" height="4.0" fill="#c94a57"/>
<rect x="859" y="420.5" width="1" height="34.1" fill="#000"/>
<rect x="857" y="421.3" width="5" height="31.9" fill="#000"/>
<rect x="858" y="422.3" width="3" height="29.9" fill="#2f8b76"/>
<rect x="865" y="414.5" width="1" height="13.1" fill="#000"/>
<rect x="863" y="418.0" width="5" height="3.3" fill="#000"/>
<rect x="864" y="419.0" width="3" height="1.3" fill="#2f8b76"/>
<rect x="871" y="400.3" width="1" height="20.2" fill="#000"/>
<rect x="869" y="401.4" width="5" height="19.1" fill="#000"/>
<rect x="870" y="402.4" width="3" height="17.1" fill="#2f8b76"/>
<rect x="878" y="394.0" width="1" height="52.6" fill="#000"/>
<rect x="876" y="401.4" width="5" height="39.8" fill="#000"/>
<rect x="877" y="402.4" width="3" height="37.8" fill="#c94a57"/>
<rect x="884" y="423.2" width="1" height="22.6" fill="#000"/>
<rect x="882" y="424.9" width="5" height="18.8" fill="#000"/>
<rect x="883" y="425.9" width="3" height="16.8" fill="#2f8b76"/>
<rect x="890" y="421.3" width="1" height="21.3" fill="#000"/>
<rect x="888" y="425.4" width="5" height="10.1" fill="#000"/>
<rect x="889" y="426.4" width="3" height="8.1" fill="#c94a57"/>
<rect x="896" y="426.2" width="1" height="35.4" fill="#000"/>
<rect x="894" y="436.3" width="5" height="21.2" fill="#000"/>
<rect x="895" y="437.3" width="3" height="19.2" fill="#c94a57"/>
<rect x="902" y="458.6" width="1" height="23.2" fill="#000"/>
<rect x="900" y="459.5" width="5" height="19.3" fill="#000"/>
<rect x="901" y="460.5" width="3" height="17.3" fill="#c94a57"/>
<rect x="909" y="464.4" width="1" height="23.6" fill="#000"/>
<rect x="907" y="478.5" width="5" height="1.7" fill="#000"/>
<rect x="915" y="472.3" width="1" height="13.6" fill="#000"/>
<rect x="913" y="477.4" width="5" height="7.1" fill="#000"/>
<rect x="914" y="478.4" width="3" height="5.1" fill="#2f8b76"/>
<rect x="921" y="447.2" width="1" height="32.7" fill="#000"/>
<rect x="919" y="462.5" width="5" height="16.0" fill="#000"/>
<rect x="920" y="463.5" width="3" height="14.0" fill="#2f8b76"/>
<rect x="927" y="449.4" width="1" height="14.7" fill="#000"/>
<rect x="925" y="457.3" width="5" height="6.2" fill="#000"/>
<rect x="926" y="458.3" width="3" height="4.2" fill="#2f8b76"/>
<rect x="933" y="432.2" width="1" height="25.9" fill="#000"/>
<rect x="931" y="445.3" width="5" height="12.0" fill="#000"/>
<rect x="932" y="446.3" width="3" height="10.0" fill="#2f8b76"/>
<rect x="940" y="428.1" width="1" height="45.8" fill="#000"/>
<rect x="938" y="440.4" width="5" height="4.9" fill="#000"/>
<rect x="939" y="441.4" width="3" height="2.9" fill="#2f8b76"/>
<rect x="946" y="432.2" width="1" height="26.4" fill="#000"/>
<rect x="944" y="437.4" width="5" height="15.2" fill="#000"/>
<rect x="945" y="438.4" width="3" height="13.2" fill="#c94a57"/>
<rect x="952" y="425.4" width="1" height="31.3" fill="#000"/>
<rect x="950" y="433.0" width="5" height="21.0" fill="#000"/>
<rect x="951" y="434.0" width="3" height="19.0" fill="#2f8b76"/>
<rect x="958" y="420.5" width="1" height="18.5" fill="#000"/>
<rect x="956" y="424.3" width="5" height="8.2" fill="#000"/>
<rect x="957" y="425.3" width="3" height="6.2" fill="#2f8b76"/>
<rect x="964" y="410.4" width="1" height="30.5" fill="#000"/>
<rect x="962" y="424.3" width="5" height="14.7" fill="#000"/>
<rect x="963" y="425.3" width="3" height="12.7" fill="#c94a57"/>
<rect x="971" y="422.7" width="1" height="16.3" fill="#000"/>
<rect x="969" y="433.0" width="5" height="4.7" fill="#000"/>
<rect x="970" y="434.0" width="3" height="2.7" fill="#2f8b76"/>
<rect x="977" y="432.2" width="1" height="36.2" fill="#000"/>
<rect x="975" y="434.1" width="5" height="30.3" fill="#000"/>
<rect x="976" y="435.1" width="3" height="28.3" fill="#c94a57"/>
<rect x="983" y="462.2" width="1" height="22.6" fill="#000"/>
<rect x="981" y="465.4" width="5" height="18.6" fill="#000"/>
<rect x="982" y="466.4" width="3" height="16.6" fill="#c94a57"/>
<rect x="989" y="463.5" width="1" height="24.5" fill="#000"/>
<rect x="987" y="466.8" width="5" height="17.2" fill="#000"/>
<rect x="988" y="467.8" width="3" height="15.2" fill="#2f8b76"/>
<rect x="995" y="449.4" width="1" height="20.1" fill="#000"/>
<rect x="993" y="456.2" width="5" height="10.3" fill="#000"/>
<rect x="994" y="457.2" width="3" height="8.3" fill="#2f8b76"/>
<rect x="1002" y="442.3" width="1" height="25.3" fill="#000"/>
<rect x="1000" y="455.4" width="5" height="9.2" fill="#000"/>
<rect x="1001" y="456.4" width="3" height="7.2" fill="#c94a57"/>
<rect x="1008" y="438.5" width="1" height="25.6" fill="#000"/>
<rect x="1006" y="445.6" width="5" height="17.9" fill="#000"/>
<rect x="1007" y="446.6" width="3" height="15.9" fill="#2f8b76"/>
<rect x="1014" y="430.3" width="1" height="17.4" fill="#000"/>
<rect x="1012" y="437.7" width="5" height="7.9" fill="#000"/>
<rect x="1013" y="438.7" width="3" height="5.9" fill="#2f8b76"/>
<rect x="1020" y="402.2" width="1" height="35.5" fill="#000"/>
<rect x="1018" y="408.5" width="5" height="28.3" fill="#000"/>
<rect x="1019" y="409.5" width="3" height="26.3" fill="#2f8b76"/>
<rect x="1026" y="383.2" width="1" height="29.4" fill="#000"/>
<rect x="1024" y="387.2" width="5" height="21.8" fill="#000"/>
<rect x="1025" y="388.2" width="3" height="19.8" fill="#2f8b76"/>
<rect x="1033" y="378.3" width="1" height="13.6" fill="#000"/>
<rect x="1031" y="385.3" width="5" height="6.0" fill="#000"/>
<rect x="1032" y="386.3" width="3" height="4.0" fill="#2f8b76"/>
<rect x="1039" y="384.0" width="1" height="21.0" fill="#000"/>
<rect x="1037" y="389.4" width="5" height="10.6" fill="#000"/>
<rect x="1038" y="390.4" width="3" height="8.6" fill="#c94a57"/>
<rect x="1045" y="392.2" width="1" height="10.6" fill="#000"/>
<rect x="1043" y="400.3" width="5" height="3.0" fill="#000"/>
<rect x="1044" y="401.3" width="3" height="1.0" fill="#c94a57"/>
</g>
</svg>
<div style="position:absolute;left:62px;top:95px;width:82px;height:24px;background:rgba(255,255,255,.55)"></div>
<div style="position:absolute;left:62px;top:119px;width:82px;height:23.5px;background:rgba(255,255,255,.55)"></div>
<div style="position:absolute;left:64px;top:48.8px;width:20px;height:18px;background:#dff2ee;border-radius:9px 0 0 9px"></div>
<div style="position:absolute;left:84px;top:48.8px;width:19.8px;height:18px;background:#fbdae6;border-radius:0 9px 9px 0"></div>
<div style="position:absolute;left:71px;top:54px;width:8px;height:8px;background:#1f9d82;border-radius:50%"></div>
<div style="position:absolute;left:64px;top:145px;width:27px;height:19px;background:#fff;border:1px solid #e0e3eb;border-radius:4px"></div>
<svg style="position:absolute;left:72px;top:150px" width="13" height="11" viewBox="0 0 13 11"><path d="M2.5 7.5 L6.5 3.5 L10.5 7.5" fill="none" stroke="#131722" stroke-width="1.6"/></svg>
<div style="position:absolute;left:1177px;top:394.3px;width:59.799999999999955px;height:30.5px;background:#e93a4f;border-radius:2px"></div>
<div style="position:absolute;left:1177px;top:424.8px;width:56px;height:17.3px;background:#3823e4;border-radius:0px"></div>
<div style="position:absolute;left:1177px;top:442.1px;width:56px;height:17.1px;background:#e93a4f;border-radius:0px"></div>
<div style="position:absolute;left:1177px;top:459.2px;width:56px;height:16.6px;background:#2962ff;border-radius:0px"></div>
<div style="position:absolute;left:1177px;top:541.4px;width:55.59999999999991px;height:16.3px;background:#2962ff;border-radius:1px"></div>
<div style="position:absolute;left:1177px;top:588.3px;width:55.59999999999991px;height:16.8px;background:#2962ff;border-radius:0px"></div>
<div style="position:absolute;left:1177px;top:605.1px;width:52.200000000000045px;height:16.3px;background:#ef5059;border-radius:0px"></div>
<div style="position:absolute;left:56px;top:652.5px;width:1186px;height:1px;background:#e6e8ee"></div>
<div style="position:absolute;left:1175.5px;top:625px;width:1px;height:0px;background:#e6e8ee"></div>
<div style="position:absolute;left:332px;top:662px;width:1px;height:22px;background:#e0e3eb"></div>
<div style="position:absolute;left:13px;top:6px;width:26px;height:26px;border-radius:50%;background:#a0765f"></div>
<div style="position:absolute;left:32.2px;top:1.2px;width:17.8px;height:17.8px;border-radius:50%;background:#e8384c"></div>
<div style="position:absolute;left:194px;top:8px;width:1px;height:22px;background:#ebedf1"></div>
<div style="position:absolute;left:240.5px;top:8px;width:1px;height:22px;background:#ebedf1"></div>
<div style="position:absolute;left:287px;top:8px;width:1px;height:22px;background:#ebedf1"></div>
<div style="position:absolute;left:467px;top:8px;width:1px;height:22px;background:#ebedf1"></div>
<div style="position:absolute;left:642px;top:8px;width:1px;height:22px;background:#ebedf1"></div>
<div style="position:absolute;left:1056.5px;top:8px;width:1px;height:22px;background:#ebedf1"></div>
<div style="position:absolute;left:1217px;top:5px;width:69.5px;height:28px;border-radius:14px;background:#2e2e2e"></div>
<div style="position:absolute;left:8px;top:357.5px;width:35px;height:1px;background:#e6e8ee"></div>
<div style="position:absolute;left:8px;top:446.5px;width:35px;height:1px;background:#e6e8ee"></div>
<div style="position:absolute;left:8px;top:612px;width:35px;height:1px;background:#e6e8ee"></div>
<div style="position:absolute;left:1252.5px;top:635px;width:32px;height:1px;background:#e6e8ee"></div>
<div style="position:absolute;left:9.2px;top:50.5px;width:34px;height:33.4px;border-radius:6px;background:#eeeeee"></div>
<svg class="i" style="left:0;top:0" width="1291" height="734"><path d="M0 727 Q0.5 732 6 734 H0 Z" fill="#8e2f6c"/><path d="M1291 726 Q1290 732 1284 734 H1291 Z" fill="#5a1240"/></svg>
<svg class="i" style="left:0;top:0" width="1291" height="734" viewBox="0 0 1291 734" fill="none" stroke="#131722" stroke-width="1.15" stroke-linecap="round" stroke-linejoin="round">
<!-- ===== top bar ===== -->
<!-- search -->
<circle cx="70" cy="17.7" r="5.6" stroke-width="1.6"/><path d="M74.1 21.8 L78 25.4" stroke-width="1.6"/>
<!-- plus circle -->
<circle cx="170.5" cy="19.4" r="9.3"/><path d="M166 19.4 H175 M170.5 14.9 V23.9"/>
<!-- candles -->
<rect x="258.4" y="12.3" width="4.3" height="12.9" stroke-linejoin="miter"/><path d="M260.5 9.1 V12.3 M260.5 25.2 V28.7" stroke-linecap="butt"/>
<rect x="266.6" y="15.3" width="4.2" height="7" stroke-linejoin="miter"/><path d="M268.7 12.1 V15.3 M268.7 22.3 V25.6" stroke-linecap="butt"/>
<!-- indicators -->
<path d="M303.4 16.6 L308.2 11.8 L312.4 15.2 L319.8 9.8" stroke-linejoin="miter"/>
<path d="M303.4 27.4 V23.9 H307.5 V20.8 H311.6 V22.5 H315.7 V17.5 H319.8 V27.4 Z M307.5 23.9 V27.4 M311.6 22.5 V27.4 M315.7 22.5 V27.4" stroke-linejoin="miter" stroke-linecap="butt"/>
<!-- chevron -->
<path d="M409.1 17.1 L413 20.6 L416.9 17.1"/>
<!-- grid 4 -->
<rect x="436.2" y="11.1" width="6.6" height="6.4" rx="1.6"/><rect x="445.2" y="11.1" width="6.6" height="6.4" rx="1.6"/>
<rect x="436.2" y="20.2" width="6.6" height="6.4" rx="1.6"/><rect x="445.2" y="20.2" width="6.6" height="6.4" rx="1.6"/>
<!-- alert -->
<path d="M490.6 27.1 A8.1 8.1 0 1 1 498.3 18.2"/>
<path d="M481 13.6 L484.8 9.8 M496.2 9.8 L499.8 12.9"/>
<path d="M490.2 14.8 V19.2 H487.1" stroke-linejoin="miter"/>
<path d="M492 25.4 H500.6 M496.3 21.1 V29.7"/>
<!-- replay -->
<path d="M562.6 19.2 L568.8 14.5 V24 Z M570.5 19.2 L576.7 14.5 V24 Z" stroke-linejoin="miter"/>
<!-- undo -->
<path d="M663.6 14.2 L659.8 18.1 L663.6 22 M659.8 18.1 H667 C670.5 18.1 671.9 20.6 671.9 23.8"/>
<!-- redo -->
<path d="M705.8 14.2 L709.6 18.1 L705.8 22 M709.6 18.1 H702.4 C698.9 18.1 697.5 20.6 697.5 23.8" stroke="#b2b5be"/>
<!-- layout rect -->
<rect x="930.3" y="11.3" width="18.6" height="16.6" rx="3"/>
<!-- chevron -->
<path d="M1036.2 17.4 L1040.2 21 L1044.2 17.4"/>
<!-- quick search -->
<path d="M1076.5 11.5 A7 7 0 1 0 1085 18.6" />
<path d="M1083.3 23.4 L1088.5 28.3"/>
<path d="M1082.4 8.6 L1077.8 14.8 H1080.9 L1080 20 L1085.4 13.4 H1082 Z" stroke-width="1.1"/>
<!-- hexagon settings -->
<path d="M1108.1 18.8 L1112.8 10.6 H1123 L1127.7 18.8 L1123 27 H1112.8 Z"/><circle cx="1117.9" cy="18.8" r="3.5"/>
<!-- fullscreen -->
<path d="M1148.3 15.6 V13.6 Q1148.3 11.5 1150.4 11.5 H1152.4 M1159.8 11.5 H1161.8 Q1163.9 11.5 1163.9 13.6 V15.6 M1163.9 22.4 V24.4 Q1163.9 26.5 1161.8 26.5 H1159.8 M1152.4 26.5 H1150.4 Q1148.3 26.5 1148.3 24.4 V22.4"/>
<!-- camera -->
<path d="M1185.4 12.6 H1188.6 L1190 10.4 H1197.2 L1198.6 12.6 H1201.7 Q1203.7 12.6 1203.7 14.6 V24.6 Q1203.7 26.6 1201.7 26.6 H1185.4 Q1183.4 26.6 1183.4 24.6 V14.6 Q1183.4 12.6 1185.4 12.6 Z"/><circle cx="1193.5" cy="19.4" r="3.8"/>

<!-- ===== left toolbar ===== -->
<!-- cursor -->
<path d="M19.5 60 V72.6 L22.6 69.9 L26.4 75.8 L29.2 74.2 L25.7 68.5 L30 67 Z" stroke-linejoin="miter"/>
<!-- trend line -->
<path d="M19 112 L33 97.9"/><circle cx="17.5" cy="113.5" r="2"/><circle cx="34.5" cy="96.4" r="2"/>
<!-- h-lines -->
<path d="M15.2 133.5 H37.1 M15.2 139.5 H34.2 M15.2 145.4 H37.1 M17.6 151.5 H37.1"/><circle cx="36.3" cy="139.5" r="2" fill="#fff"/><circle cx="15.6" cy="151.5" r="2" fill="#fff"/>
<!-- pattern -->
<path d="M20.2 172.1 L24.1 179.6 L32.4 173.3 L35.5 186.3 L24.1 179.6 L17.2 189.5 Z" stroke-width="1.1"/>
<circle cx="20.2" cy="172.1" r="2" fill="#fff"/><circle cx="32.4" cy="173.3" r="2" fill="#fff"/><circle cx="24.1" cy="179.6" r="2" fill="#fff"/><circle cx="35.5" cy="186.3" r="2" fill="#fff"/><circle cx="17.2" cy="189.5" r="2" fill="#fff"/>
<!-- fib -->
<path d="M18.4 211.4 H35.9 M18.4 221.6 H32.4 M18.4 227.8 H35.9"/><path d="M20.7 219.2 L34 213.4" stroke-dasharray="0.6 2.2"/>
<circle cx="16.3" cy="211.4" r="2"/><circle cx="16.3" cy="221.6" r="2"/><circle cx="34.5" cy="221.6" r="2"/><circle cx="16.3" cy="227.8" r="2"/>
<!-- brush -->
<path d="M15.4 265.2 L26.2 254.6 C28.6 253.2 31.6 255.4 31.2 258.6 C30.6 263 24.5 265.6 15.4 265.2 Z M29.4 252.2 C30.2 254.8 32.6 255.4 34.4 253.8 L39 249.2"/>
<!-- T -->
<path d="M18.9 290.2 V286.8 H33.8 V290.2 M26.4 286.8 V303.6 M23.8 303.6 H29.2" stroke-linejoin="miter" stroke-linecap="butt"/>
<!-- emoji -->
<circle cx="25.9" cy="332.8" r="10.6"/><circle cx="23.3" cy="330.4" r="0.9" fill="#131722" stroke="none"/><circle cx="28.5" cy="330.4" r="0.9" fill="#131722" stroke="none"/><path d="M22.6 334.6 C23.8 337.4 28 337.4 29.2 334.6"/>
<!-- ruler -->
<g transform="rotate(-45 26 383.8)"><rect x="12.8" y="380.2" width="26.4" height="7.2" rx="1"/><path d="M17.2 380.2 V383 M21.6 380.2 V383 M26 380.2 V383 M30.4 380.2 V383 M34.8 380.2 V383" stroke-linecap="butt"/></g>
<!-- zoom -->
<circle cx="24.6" cy="420.7" r="7.9"/><path d="M21.1 420.7 H28.1 M24.6 417.2 V424.2 M30.3 426.3 L33.9 429.8"/>
<!-- magnet -->
<path d="M18.4 481.5 V471.6 A7.9 7.9 0 0 1 34.2 471.6 V481.5 H30.2 V471.6 A3.9 3.9 0 0 0 22.4 471.6 V481.5 Z M18.4 477.2 H22.4 M30.2 477.2 H34.2"/>
<!-- pencil + lock -->
<path d="M15.1 516.4 L15.3 512.3 L25.6 501.6 Q27.4 499.9 29.2 501.5 L30.6 502.9 Q32.2 504.6 30.6 506.3 L20 516.3 Z M15.3 512.3 L20 516.3"/>
<rect x="27.5" y="515.7" width="8.2" height="5.8" rx="1"/><path d="M29.2 515.7 V513.4 A2.6 2.6 0 0 1 34 511.9"/><path d="M31.6 517.8 V519.2" stroke-width="1.4"/>
<!-- lock open -->
<rect x="18.7" y="547.3" width="14.7" height="11" rx="2"/><path d="M21.9 547.3 V544.6 A3.9 3.9 0 0 1 29.4 543.2"/><path d="M25.9 551.6 V554" stroke-width="1.8"/>
<!-- eye -->
<path d="M30.5 588 C25 591.6 18.6 588.6 16.2 582.9 C19.4 574.4 30.9 574.4 34.1 582.9 C33.7 584 33.1 585 32.4 585.9"/><circle cx="24.9" cy="582.9" r="3.4"/>
<path d="M26.6 597.4 C27.4 594.6 30 592.9 32.4 593.4 C33 596.2 30 598 26.6 597.4 Z M32.8 593.2 C33.8 594.4 35 593.6 36.8 592" stroke-width="1.05"/>
<!-- trash -->
<path d="M17.9 631.8 H34.5 M22.8 631.6 V629.8 Q22.8 628.8 23.8 628.8 H28.6 Q29.6 628.8 29.6 629.8 V631.6 M19.6 632.2 L21.2 646.2 Q21.4 647.8 23 647.8 H29.4 Q31 647.8 31.2 646.2 L32.8 632.2"/>

<!-- ===== right toolbar ===== -->
<!-- watchlist -->
<path d="M1259.5 55.2 H1278.8 V77.6 L1269.1 72.8 L1259.5 77.6 Z M1263.2 60.6 H1275.4 M1263.2 64.6 H1275.4 M1263.2 68.5 H1275.4" stroke-linejoin="miter"/>
<!-- alarm -->
<circle cx="1268.8" cy="111" r="10.5"/><path d="M1256.7 103.4 L1261.6 99.2 M1276.1 99.2 L1281.2 103.4"/><path d="M1269.9 106.6 V112.5 H1264.2" stroke-linejoin="miter"/>
<!-- layers -->
<path d="M1268.7 148.3 L1279.4 153.9 L1268.7 159.5 L1258 153.9 Z M1258 159.8 L1268.7 166.5 L1279.4 159.8" stroke-linejoin="miter"/>
<!-- chat -->
<path d="M1277.6 203.5 H1278.4 Q1280.6 203.5 1280.6 205.7 V216.2 L1276.6 212.6 H1268.4 Q1266.4 212.6 1266.2 210.8"/>
<path d="M1259.5 193.7 H1275.3 Q1277.5 193.7 1277.5 195.9 V206.6 Q1277.5 208.8 1275.3 208.8 H1262.4 L1257.3 213.2 V195.9 Q1257.3 193.7 1259.5 193.7 Z" fill="#fff"/>
<!-- target -->
<circle cx="1268.8" cy="514.5" r="12.9"/><circle cx="1268.8" cy="514.5" r="7.2"/><circle cx="1268.8" cy="514.5" r="2" fill="#131722"/><path d="M1268.8 514.5 L1278.4 504.3"/>
<!-- calendar -->
<rect x="1257.5" y="552" width="22.6" height="20.5" rx="3"/><path d="M1257.5 558.6 H1280.1"/><rect x="1261.1" y="548.8" width="2.6" height="6.2" rx="1.2" fill="#fff"/><rect x="1274" y="548.8" width="2.6" height="6.2" rx="1.2" fill="#fff"/>
<!-- grid button -->
<circle cx="1268.8" cy="606.6" r="16.4" fill="#1f1f1f" stroke="none"/>
<g fill="#fff" stroke="none"><rect x="1260.6" y="598.4" width="3.6" height="3.6" rx=".4"/><rect x="1267" y="598.4" width="3.6" height="3.6" rx=".4"/><rect x="1273.4" y="598.4" width="3.6" height="3.6" rx=".4"/>
<rect x="1260.6" y="604.8" width="3.6" height="3.6" rx=".4"/><rect x="1267" y="604.8" width="3.6" height="3.6" rx=".4"/><rect x="1273.4" y="604.8" width="3.6" height="3.6" rx=".4"/>
<rect x="1260.6" y="611.2" width="3.6" height="3.6" rx=".4"/><rect x="1267" y="611.2" width="3.6" height="3.6" rx=".4"/><rect x="1273.4" y="611.2" width="3.6" height="3.6" rx=".4"/></g>
<!-- broadcast -->
<circle cx="1259.8" cy="672.6" r="1.7"/><path d="M1258.6 666 A7.8 7.8 0 0 1 1266.6 674 M1258.6 659.4 A14.4 14.4 0 0 1 1273.2 674 M1258.6 652.8 A21 21 0 0 1 1279.8 674"/>
<!-- help -->
<path d="M1277.4 699.2 A13.6 13.6 0 0 0 1255.6 712.6 M1260.2 720.2 A13.6 13.6 0 0 0 1282.4 707"/>
<path d="M1280.6 695.4 L1281.8 698.6 L1285 699.8 L1281.8 701 L1280.6 704.2 L1279.4 701 L1276.2 699.8 L1279.4 698.6 Z" stroke-width="1"/><path d="M1257.5 714.5 L1258.4 716.6 L1260.5 717.5 L1258.4 718.4 L1257.5 720.5 L1256.6 718.4 L1254.5 717.5 L1256.6 716.6 Z" stroke-width="1"/>
<path d="M1265.4 704.6 C1265.6 700.4 1272.6 700.4 1272.6 704.4 C1272.6 707.4 1269 707.6 1269 711.4"/><circle cx="1269" cy="716" r="1.5"/>
<!-- ===== misc ===== -->
<!-- price axis hex -->
<path d="M1202.1 639.4 L1205.7 633.2 H1213.1 L1216.7 639.4 L1213.1 645.6 H1205.7 Z"/><circle cx="1209.4" cy="639.4" r="2.1"/>
<!-- goto date calendar -->
<path d="M347.4 671.6 V668 Q347.4 665.5 349.9 665.5 H361.9 Q364.4 665.5 364.4 668 V677.9 Q364.4 680.4 361.9 680.4 H356.1 M347.4 669.4 H364.4 M352.4 663.1 V666.9 M359.4 663.1 V666.9 M346.2 677.3 H353.6 M350.3 674.2 L353.6 677.3 L350.3 680.7"/>
<!-- bottom panel chevron + maximize -->
<path d="M1179.2 716.8 L1187.7 710.8 L1196.2 716.8"/>
<path d="M1215.3 713.6 V710.4 Q1215.3 707.5 1218.2 707.5 H1227.9 Q1230.8 707.5 1230.8 710.4 V713.6 M1215.3 716.8 V719.7 Q1215.3 722.6 1218.2 722.6 H1227.9 Q1230.8 722.6 1230.8 719.7 V716.8"/>
</svg>

<svg class="i" style="left:0;top:0" width="1291" height="734" viewBox="0 0 1291 734">
<!-- TradingView logo -->
<g stroke="#fff" stroke-width="4" stroke-linejoin="round" fill="#131722" paint-order="stroke">
<path d="M68 596 H80 V610.8 H74.1 V601.8 H68 Z"/>
<circle cx="85" cy="598.9" r="2.9"/>
<path d="M89.9 596 H97.8 L93 610.8 H85.2 Z"/>
<text x="105.3" y="610.7" font-family="Liberation Sans, sans-serif" font-weight="bold" font-size="20.2" textLength="120.3" lengthAdjust="spacingAndGlyphs">TradingView</text>
</g>
<!-- event icons -->
<defs>
<clipPath id="fc1"><circle cx="1044.7" cy="611.6" r="8.2"/></clipPath>
<clipPath id="fc2"><circle cx="1051.7" cy="611.6" r="8.2"/></clipPath>
<clipPath id="fc3"><circle cx="1063.9" cy="611.6" r="8.2"/></clipPath>
</defs>
<g>
<circle cx="1063.9" cy="611.6" r="9.6" fill="#fff" stroke="#d9535c" stroke-width="1.3"/>
<g clip-path="url(#fc3)"><rect x="1053" y="603" width="22" height="18" fill="#fff"/><rect x="1053" y="604" width="22" height="2.4" fill="#e0606a"/><rect x="1053" y="608.8" width="22" height="2.4" fill="#e0606a"/><rect x="1053" y="613.6" width="22" height="2.4" fill="#e0606a"/><rect x="1053" y="618.2" width="22" height="2.4" fill="#e0606a"/><rect x="1053" y="603" width="10" height="8.6" fill="#4a86d8"/></g>
<circle cx="1051.7" cy="611.6" r="9.6" fill="#fff" stroke="#d9535c" stroke-width="1.3"/>
<g clip-path="url(#fc2)"><rect x="1041" y="603" width="22" height="18" fill="#fff"/><rect x="1041" y="604" width="22" height="2.4" fill="#e0606a"/><rect x="1041" y="608.8" width="22" height="2.4" fill="#e0606a"/><rect x="1041" y="613.6" width="22" height="2.4" fill="#e0606a"/><rect x="1041" y="618.2" width="22" height="2.4" fill="#e0606a"/></g>
<circle cx="1044.7" cy="611.6" r="9.6" fill="#fff" stroke="#d9535c" stroke-width="1.3"/>
<g clip-path="url(#fc1)"><rect x="1034" y="603" width="22" height="18" fill="#fff"/><rect x="1034" y="604" width="22" height="2.4" fill="#e0606a"/><rect x="1034" y="608.8" width="22" height="2.4" fill="#e0606a"/><rect x="1034" y="613.6" width="22" height="2.4" fill="#e0606a"/><rect x="1034" y="618.2" width="22" height="2.4" fill="#e0606a"/><rect x="1034" y="603" width="11" height="8.6" fill="#4a86d8"/>
<g fill="#fff"><rect x="1038.6" y="605" width="1" height="1"/><rect x="1040.8" y="605" width="1" height="1"/><rect x="1043" y="605" width="1" height="1"/><rect x="1038.6" y="607.2" width="1" height="1"/><rect x="1040.8" y="607.2" width="1" height="1"/><rect x="1043" y="607.2" width="1" height="1"/><rect x="1038.6" y="609.4" width="1" height="1"/><rect x="1040.8" y="609.4" width="1" height="1"/><rect x="1043" y="609.4" width="1" height="1"/></g></g>
</g>
<circle cx="1045.5" cy="587" r="9.6" fill="#fff" stroke="#8e44ad" stroke-width="1.3"/>
<path d="M1047.6 581.6 L1041.6 588.2 H1045.2 L1043.6 592.6 L1049.6 586 H1046 Z" fill="#8e44ad"/>
<circle cx="1052.5" cy="580.6" r="3.4" fill="#fff"/><circle cx="1052.5" cy="580.6" r="2.4" fill="#dc4754"/>
</svg>

<svg class="i" style="left:0;top:0" width="1291" height="734" font-family="Liberation Sans, sans-serif" text-rendering="geometricPrecision"><text x="88.9" y="63.07" font-size="15" fill="#b5316b" font-weight="bold" textLength="8.1" lengthAdjust="spacingAndGlyphs">≈</text>
<text x="112.0" y="63.16" font-size="12.5" fill="#131722" stroke="#131722" stroke-width="0.18" textLength="54.6" lengthAdjust="spacing">O1.39135</text>
<text x="173.6" y="63.16" font-size="12.5" fill="#131722" stroke="#131722" stroke-width="0.18" textLength="54.0" lengthAdjust="spacing">H1.39298</text>
<text x="235.3" y="63.16" font-size="12.5" fill="#131722" stroke="#131722" stroke-width="0.18" textLength="52.0" lengthAdjust="spacing">L1.39064</text>
<text x="294.5" y="63.16" font-size="12.5" fill="#131722" stroke="#131722" stroke-width="0.18" textLength="53.3" lengthAdjust="spacingAndGlyphs">C1.39080</text>
<text x="355.1" y="63.16" font-size="12.5" fill="#131722" stroke="#131722" stroke-width="0.18" textLength="50.7" lengthAdjust="spacingAndGlyphs">−0.00070</text>
<text x="412.0" y="63.16" font-size="12.5" fill="#131722" stroke="#131722" stroke-width="0.18" textLength="47.7" lengthAdjust="spacingAndGlyphs">(−0.05%)</text>
<text x="65.4" y="87.16" font-size="12.5" fill="#131722" stroke="#131722" stroke-width="0.18" textLength="58.4" lengthAdjust="spacing">Vol · Ticks</text>
<text x="132.8" y="86.96" font-size="12.5" fill="#cc626c" stroke="#cc626c" stroke-width="0.18" textLength="40.6" lengthAdjust="spacing">59.97K</text>
<text x="65.4" y="111.16" font-size="12.5" fill="#131722" stroke="#131722" stroke-width="0.18" textLength="23.2" lengthAdjust="spacingAndGlyphs">EMA</text>
<text x="98.0" y="111.16" font-size="12.5" fill="#cc626c" stroke="#cc626c" stroke-width="0.18" textLength="43.8" lengthAdjust="spacingAndGlyphs">1.38137</text>
<text x="65.4" y="135.26" font-size="12.5" fill="#131722" stroke="#131722" stroke-width="0.18" textLength="23.2" lengthAdjust="spacingAndGlyphs">EMA</text>
<text x="98.0" y="135.26" font-size="12.5" fill="#4d4dc0" stroke="#4d4dc0" stroke-width="0.18" textLength="43.8" lengthAdjust="spacingAndGlyphs">1.38661</text>
<text x="1185.8" y="77.87" font-size="12" fill="#131722" stroke="#131722" stroke-width="0.18" textLength="41.4" lengthAdjust="spacingAndGlyphs">1.46000</text>
<text x="1185.8" y="125.17" font-size="12" fill="#131722" stroke="#131722" stroke-width="0.18" textLength="41.4" lengthAdjust="spacingAndGlyphs">1.45000</text>
<text x="1185.8" y="172.87" font-size="12" fill="#131722" stroke="#131722" stroke-width="0.18" textLength="41.4" lengthAdjust="spacingAndGlyphs">1.44000</text>
<text x="1185.8" y="220.37" font-size="12" fill="#131722" stroke="#131722" stroke-width="0.18" textLength="41.4" lengthAdjust="spacingAndGlyphs">1.43000</text>
<text x="1185.8" y="267.87" font-size="12" fill="#131722" stroke="#131722" stroke-width="0.18" textLength="41.4" lengthAdjust="spacingAndGlyphs">1.42000</text>
<text x="1185.8" y="315.37" font-size="12" fill="#131722" stroke="#131722" stroke-width="0.18" textLength="41.4" lengthAdjust="spacingAndGlyphs">1.41000</text>
<text x="1185.8" y="362.87" font-size="12" fill="#131722" stroke="#131722" stroke-width="0.18" textLength="41.4" lengthAdjust="spacingAndGlyphs">1.40000</text>
<text x="1185.8" y="505.87" font-size="12" fill="#131722" stroke="#131722" stroke-width="0.18" textLength="41.4" lengthAdjust="spacingAndGlyphs">1.37000</text>
<text x="1185.9" y="406.59" font-size="11.5" fill="#fff" font-weight="bold" textLength="41.1" lengthAdjust="spacing">1.39080</text>
<text x="1185.0" y="420.89" font-size="11.5" fill="#fbd3d8" font-weight="bold" textLength="46.0" lengthAdjust="spacing">07:08:15</text>
<text x="1185.9" y="437.89" font-size="11.5" fill="#fff" font-weight="bold" textLength="40.7" lengthAdjust="spacingAndGlyphs">1.38661</text>
<text x="1185.9" y="454.99" font-size="11.5" fill="#fff" font-weight="bold" textLength="40.7" lengthAdjust="spacingAndGlyphs">1.38137</text>
<text x="1185.9" y="471.79" font-size="11.5" fill="#fff" font-weight="bold" textLength="40.9" lengthAdjust="spacingAndGlyphs">1.38000</text>
<text x="1185.9" y="553.89" font-size="11.5" fill="#fff" font-weight="bold" textLength="40.9" lengthAdjust="spacingAndGlyphs">1.36000</text>
<text x="1185.9" y="600.69" font-size="11.5" fill="#fff" font-weight="bold" textLength="40.9" lengthAdjust="spacingAndGlyphs">1.35000</text>
<text x="1185.0" y="617.69" font-size="11.5" fill="#fff" font-weight="bold" textLength="38.6" lengthAdjust="spacing">59.97K</text>
<text x="99.2" y="643.37" font-size="12" fill="#131722" stroke="#131722" stroke-width="0.4" textLength="19.8" lengthAdjust="spacingAndGlyphs">Mar</text>
<text x="230.1" y="643.37" font-size="12" fill="#131722" stroke="#131722" stroke-width="0.4" textLength="18.6" lengthAdjust="spacing">Apr</text>
<text x="364.7" y="643.37" font-size="12" fill="#131722" stroke="#131722" stroke-width="0.4" textLength="21.0" lengthAdjust="spacingAndGlyphs">May</text>
<text x="501.2" y="643.37" font-size="12" fill="#131722" stroke="#131722" stroke-width="0.4" textLength="21.0" lengthAdjust="spacing">Jun</text>
<text x="633.8" y="643.37" font-size="12" fill="#131722" stroke="#131722" stroke-width="0.4" textLength="16.6" lengthAdjust="spacing">Jul</text>
<text x="775.1" y="643.37" font-size="12" fill="#131722" stroke="#131722" stroke-width="0.4" textLength="19.3" lengthAdjust="spacingAndGlyphs">Aug</text>
<text x="905.4" y="643.37" font-size="12" fill="#131722" stroke="#131722" stroke-width="0.4" textLength="19.3" lengthAdjust="spacingAndGlyphs">Sep</text>
<text x="1042.1" y="643.37" font-size="12" fill="#131722" stroke="#131722" stroke-width="0.4" textLength="18.4" lengthAdjust="spacing">Oct</text>
<text x="71.3" y="677.82" font-size="13.5" fill="#131722" stroke="#131722" stroke-width="0.18" textLength="13.9" lengthAdjust="spacingAndGlyphs">1D</text>
<text x="98.7" y="677.82" font-size="13.5" fill="#131722" stroke="#131722" stroke-width="0.18" textLength="14.8" lengthAdjust="spacingAndGlyphs">5D</text>
<text x="127.2" y="677.82" font-size="13.5" fill="#131722" stroke="#131722" stroke-width="0.18" textLength="15.6" lengthAdjust="spacingAndGlyphs">1M</text>
<text x="156.2" y="677.82" font-size="13.5" fill="#131722" stroke="#131722" stroke-width="0.18" textLength="15.6" lengthAdjust="spacingAndGlyphs">3M</text>
<text x="185.0" y="677.82" font-size="13.5" fill="#131722" stroke="#131722" stroke-width="0.18" textLength="16.6" lengthAdjust="spacingAndGlyphs">6M</text>
<text x="214.7" y="677.82" font-size="13.5" fill="#131722" stroke="#131722" stroke-width="0.18" textLength="23.3" lengthAdjust="spacingAndGlyphs">YTD</text>
<text x="251.6" y="677.82" font-size="13.5" fill="#131722" stroke="#131722" stroke-width="0.18" textLength="13.9" lengthAdjust="spacingAndGlyphs">1Y</text>
<text x="278.9" y="677.82" font-size="13.5" fill="#131722" stroke="#131722" stroke-width="0.18" textLength="14.4" lengthAdjust="spacingAndGlyphs">5Y</text>
<text x="305.2" y="677.82" font-size="13.5" fill="#131722" stroke="#131722" stroke-width="0.18" textLength="15.8" lengthAdjust="spacing">All</text>
<text x="1148.5" y="677.94" font-size="13" fill="#131722" stroke="#131722" stroke-width="0.18" textLength="82.8" lengthAdjust="spacing">13:51:45 UTC</text>
<text x="72.2" y="720.22" font-size="13.5" fill="#131722" stroke="#131722" stroke-width="0.18" textLength="67.2" lengthAdjust="spacing">Pine Editor</text>
<text x="172.9" y="720.22" font-size="13.5" fill="#131722" stroke="#131722" stroke-width="0.18" textLength="82.7" lengthAdjust="spacing">Trading Panel</text>
<text x="20.8" y="25.60" font-size="17" fill="#fff" stroke="#fff" stroke-width="0.5" textLength="9.4" lengthAdjust="spacingAndGlyphs">T</text>
<text x="36.2" y="13.46" font-size="9.5" fill="#fff" stroke="#fff" stroke-width="0.45" textLength="9.4" lengthAdjust="spacingAndGlyphs">11</text>
<text x="84.5" y="24.22" font-size="13.5" fill="#131722" font-weight="bold" textLength="51.5" lengthAdjust="spacingAndGlyphs">USDCAD</text>
<text x="213.4" y="23.92" font-size="13.5" fill="#131722" stroke="#131722" stroke-width="0.18" textLength="8.1" lengthAdjust="spacingAndGlyphs">D</text>
<text x="329.8" y="23.72" font-size="13.5" fill="#131722" stroke="#131722" stroke-width="0.18" textLength="60.9" lengthAdjust="spacing">Indicators</text>
<text x="509.5" y="23.92" font-size="13.5" fill="#131722" stroke="#131722" stroke-width="0.18" textLength="30.3" lengthAdjust="spacing">Alert</text>
<text x="587.5" y="23.92" font-size="13.5" fill="#131722" stroke="#131722" stroke-width="0.18" textLength="40.6" lengthAdjust="spacingAndGlyphs">Replay</text>
<text x="964.0" y="19.22" font-size="13.5" fill="#131722" stroke="#131722" stroke-width="0.18" textLength="57.6" lengthAdjust="spacingAndGlyphs">Unnamed</text>
<text x="983.2" y="31.01" font-size="11" fill="#2a5bd7" stroke="#2a5bd7" stroke-width="0.18" textLength="19.8" lengthAdjust="spacingAndGlyphs">Save</text>
<text x="1229.7" y="23.92" font-size="13.5" fill="#fff" font-weight="bold" textLength="43.9" lengthAdjust="spacingAndGlyphs">Publish</text></svg>
</body></html>
